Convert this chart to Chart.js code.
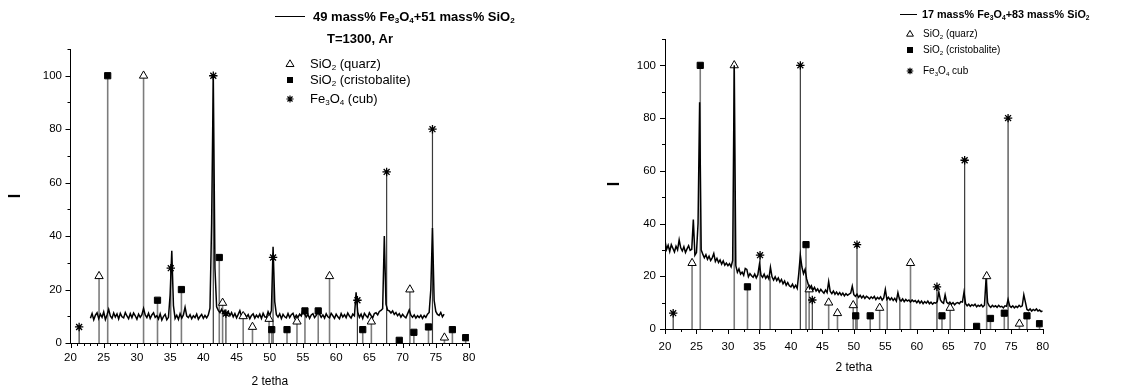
<!DOCTYPE html>
<html>
<head>
<meta charset="utf-8">
<script src="https://cdn.jsdelivr.net/npm/chart.js@4.4.1/dist/chart.umd.min.js"></script>
<style>
    html, body { margin: 0; padding: 0; background: #fff; }
    #wrap { position: relative; width: 1126px; height: 389px; }
    canvas { position: absolute; top: 0; }
</style>
</head>
<body>
<div id="wrap">
    <canvas id="left" width="563" height="389" style="left:0"></canvas>
    <canvas id="right" width="563" height="389" style="left:563px"></canvas>
</div>
<script>
// ---- data ----
const stepDeg = 0.25;

// 49 mass% Fe3O4 + 51 mass% SiO2, from 23.0 deg
const leftStart = 23.0;
const leftCounts = [
    9.3, 11.0, 8.7, 10.4, 11.3, 9.1, 10.8, 9.6, 11.6, 8.8, 10.5, 12.6, 10.1, 9.2, 11.2, 9.7, 10.9, 9.0, 11.1, 9.8,
    9.4, 11.4, 10.1, 9.1, 11.0, 9.5, 11.2, 10.2, 8.9, 10.8, 9.6, 10.6, 12.9, 10.5, 9.5, 11.1, 9.2, 10.5, 11.3, 9.6,
    10.2, 9.0, 10.9, 8.6, 9.9, 10.7, 8.7, 9.6, 18.0, 34.5, 14.0, 9.2, 10.4, 8.8, 11.0, 9.3, 10.5, 13.4, 10.1, 9.5,
    10.6, 9.1, 10.2, 9.5, 10.8, 8.9, 9.9, 10.7, 9.2, 10.3, 9.4, 10.5, 13.0, 45.0, 100, 28.0, 13.5, 12.2, 11.4, 12.6,
    11.1, 12.2, 10.7, 11.8, 10.2, 11.4, 9.8, 11.0, 9.4, 10.7, 12.1, 10.0, 9.5, 10.8, 9.7, 10.6, 9.1, 10.3, 10.9, 9.3,
    10.4, 9.6, 10.8, 9.2, 11.1, 9.8, 9.6, 11.7, 10.3, 12.2, 36.0, 15.5, 10.6, 9.7, 10.9, 9.1, 10.7, 9.8, 9.4, 11.0,
    9.5, 10.6, 11.1, 9.3, 10.4, 9.6, 10.8, 10.1, 12.5, 10.9, 9.7, 10.7, 9.2, 10.5, 11.0, 9.5, 10.3, 12.2, 10.8, 9.6,
    10.5, 9.3, 10.9, 9.8, 9.4, 11.1, 10.2, 9.2, 10.8, 9.8, 9.1, 11.0, 9.7, 10.6, 9.5, 11.2, 10.1, 9.3, 10.8, 10.2,
    19.0, 11.5, 9.6, 10.8, 9.2, 11.1, 10.2, 9.5, 11.3, 10.3, 9.4, 11.0, 11.3, 10.5, 11.8, 12.2, 12.8, 40.0, 14.5, 12.3,
    12.0, 11.2, 12.0, 10.7, 11.4, 10.2, 11.0, 9.7, 10.7, 9.9, 9.4, 10.9, 12.4, 10.4, 9.6, 10.5, 9.3, 10.2, 9.5, 10.4,
    9.2, 10.3, 9.6, 10.8, 11.4, 20.0, 43.0, 16.0, 11.8, 10.7, 10.3, 11.4, 9.8, 10.8
];

// 17 mass% Fe3O4 + 83 mass% SiO2, from 20.0 deg
const rightStart = 20.0;
const rightCounts = [
    33.5, 30.2, 31.8, 29.4, 32.0, 30.6, 29.2, 31.4, 30.0, 33.8, 30.8, 29.6, 31.2, 29.0, 30.4, 31.6, 29.8, 30.2, 41.5, 28.0,
    29.0, 40.0, 86.0, 30.0, 28.4, 27.0, 28.2, 26.4, 27.6, 26.0, 27.0, 28.6, 25.6, 26.8, 25.2, 26.2, 24.6, 25.8, 24.2, 25.0,
    24.0, 24.8, 23.6, 26.0, 100, 24.0, 21.5, 22.8, 20.8, 21.6, 20.4, 23.0, 22.6, 19.8, 21.0, 20.2, 19.6, 20.8, 19.4, 20.6,
    24.5, 20.4, 19.6, 20.8, 19.2, 20.2, 19.0, 23.4, 19.8, 18.6, 19.8, 18.4, 19.4, 17.8, 18.8, 17.2, 18.2, 16.6, 17.6, 16.4,
    16.0, 17.0, 15.6, 16.6, 15.4, 21.0, 28.0, 23.5, 21.0, 22.6, 19.0, 17.0, 15.4, 16.4, 14.8, 15.8, 14.4, 15.2, 14.0, 15.0,
    14.2, 13.6, 14.8, 13.8, 18.0, 14.2, 13.4, 14.4, 13.2, 14.0, 13.0, 13.8, 12.8, 13.6, 12.6, 13.4, 12.8, 13.2, 13.6, 16.2,
    13.0, 12.4, 13.2, 12.0, 12.8, 11.8, 12.6, 11.6, 12.4, 12.0, 11.4, 12.2, 11.6, 12.4, 11.2, 12.0, 11.4, 12.2, 11.0, 11.8,
    15.0, 11.2, 12.0, 11.0, 11.8, 10.8, 11.6, 10.6, 13.8, 11.2, 10.6, 11.4, 10.4, 11.2, 10.6, 11.0, 10.2, 11.0, 10.4, 10.8,
    10.0, 10.8, 9.8, 10.6, 9.6, 10.4, 9.8, 10.6, 9.6, 10.2, 9.4, 10.0, 9.8, 10.4, 14.0, 11.0, 10.2, 9.8, 13.0, 10.2,
    9.6, 10.2, 9.4, 10.0, 9.2, 9.8, 10.0, 9.6, 10.4, 10.2, 14.0, 9.6, 8.8, 9.4, 8.6, 9.2, 8.8, 9.4, 8.4, 9.0,
    8.6, 9.2, 8.4, 9.0, 19.0, 10.0, 8.8, 8.2, 9.0, 8.4, 8.8, 8.2, 9.0, 8.4, 8.6, 8.0, 8.8, 8.6, 11.2, 8.8,
    8.2, 8.8, 8.0, 8.6, 8.2, 9.0, 8.4, 8.8, 13.0, 10.2, 7.4, 7.0, 7.6, 6.8, 7.4, 7.0, 7.6, 6.8, 7.2, 6.6,
    6.8
];

// reference sticks (2 theta, relative intensity)
const quarzPos = [24.3, 31.0, 42.9, 46.0, 47.4, 49.9, 54.1, 59.0, 65.3, 71.1, 76.3];
const quarzInt = [25, 100, 15, 10, 6, 9, 8, 25, 8, 20, 2];
const cristPos = [25.6, 33.1, 36.7, 42.4, 50.3, 52.6, 55.3, 57.3, 64.0, 69.5, 71.7, 73.9, 77.5, 79.5];
const cristInt = [100, 16, 20, 32, 5, 5, 12, 12, 5, 1, 4, 6, 5, 2];
const magPos = [21.3, 35.1, 41.5, 43.4, 50.5, 63.2, 67.6, 74.5];
const magInt = [6, 28, 100, 11, 32, 16, 64, 80];
// cristobalite sticks whose symbol is buried in the right-hand pattern
const rightHiddenCrist = [36.7, 55.3, 57.3];

const FONT = '"Liberation Sans", Arial, sans-serif';

function curvePoints(start, ys) {
    return ys.map((y, i) => ({ x: start + i * stepDeg, y: y }));
}

function stickPoints(pos, ints) {
    const out = [];
    pos.forEach((p, i) => {
        out.push({ x: p, y: 0 }, { x: p, y: ints[i] }, { x: p, y: null });
    });
    return out;
}

function markPoints(pos, ints, skip) {
    const s = skip || [];
    return pos.map((p, i) => ({ x: p, y: ints[i] })).filter((pt) => s.indexOf(pt.x) < 0);
}

// small marker drawer for the legend
function mark(ctx, style, x, y, r) {
    ctx.save();
    ctx.lineWidth = 1;
    ctx.strokeStyle = "#000";
    ctx.fillStyle = "#000";
    ctx.beginPath();
    if (style === "triangle") {
        ctx.fillStyle = "#fff";
        ctx.moveTo(x, y - r);
        ctx.lineTo(x + r * 0.95, y + r * 0.6);
        ctx.lineTo(x - r * 0.95, y + r * 0.6);
        ctx.closePath();
        ctx.fill();
        ctx.stroke();
    } else if (style === "rect") {
        ctx.rect(x - r, y - r, 2 * r, 2 * r);
        ctx.fill();
    } else {
        ctx.lineWidth = 1.2;
        for (let k = 0; k < 4; k++) {
            const a = (k * Math.PI) / 4;
            ctx.moveTo(x - r * Math.cos(a), y - r * Math.sin(a));
            ctx.lineTo(x + r * Math.cos(a), y + r * Math.sin(a));
        }
        ctx.stroke();
    }
    ctx.restore();
}

function richText(ctx, x, y, parts, size, weight, align) {
    let w = 0;
    parts.forEach(([t, sub]) => {
        ctx.font = weight + " " + (sub ? size * 0.62 : size) + "px " + FONT;
        w += ctx.measureText(t).width;
    });
    let cx = align === "center" ? x - w / 2 : x;
    parts.forEach(([t, sub]) => {
        ctx.font = weight + " " + (sub ? size * 0.62 : size) + "px " + FONT;
        ctx.fillText(t, cx, y + (sub ? size * 0.32 : 0));
        cx += ctx.measureText(t).width;
    });
}

// minor/major tick marks and the in-plot legend
const decor = {
    id: "decor",
    afterDraw(chart, args, o) {
        const ctx = chart.ctx;
        const xs = chart.scales.x;
        const ys = chart.scales.y;
        const a = chart.chartArea;
        ctx.save();
        ctx.strokeStyle = "#000";
        ctx.lineWidth = 1;
        ctx.beginPath();
        for (let v = xs.min; v <= xs.max + 1e-9; v += o.xMinor) {
            const px = Math.round(xs.getPixelForValue(v)) + 0.5;
            const major = Math.abs(v / o.xMajor - Math.round(v / o.xMajor)) < 1e-6;
            ctx.moveTo(px, a.bottom);
            ctx.lineTo(px, a.bottom + (major ? 5 : 3));
        }
        for (let v = ys.min; v <= ys.max + 1e-9; v += o.yMinor) {
            const py = Math.round(ys.getPixelForValue(v)) + 0.5;
            const major = Math.abs(v / o.yMajor - Math.round(v / o.yMajor)) < 1e-6;
            ctx.moveTo(a.left, py);
            ctx.lineTo(a.left - (major ? 5 : 3), py);
        }
        ctx.stroke();

        const L = o.legend;
        ctx.fillStyle = "#000";
        ctx.textBaseline = "middle";
        ctx.beginPath();
        ctx.moveTo(L.line[0], L.line[2] + 0.5);
        ctx.lineTo(L.line[1], L.line[2] + 0.5);
        ctx.stroke();
        L.texts.forEach((t) => richText(ctx, t.x, t.y, t.parts, t.size, t.weight, t.align));
        L.items.forEach((it) => {
            mark(ctx, it.style, L.markX, it.y, it.r);
            richText(ctx, L.textX, it.y, it.parts, L.itemSize, "normal", "left");
        });
        ctx.restore();
    },
};

const SIO2_Q = [["SiO", 0], ["2", 1], [" (quarz)", 0]];
const SIO2_C = [["SiO", 0], ["2", 1], [" (cristobalite)", 0]];

function makeChart(id, cfg) {
    const ctx = document.getElementById(id).getContext("2d");
    const curve = {
        type: "line",
        data: curvePoints(cfg.start, cfg.counts),
        borderColor: "#000",
        borderWidth: 1.5,
        pointRadius: 0,
        tension: 0,
        order: cfg.curveOnTop ? 0 : 4,
    };
    const markers = [
        { data: markPoints(quarzPos, quarzInt), pointStyle: "triangle", pointRadius: 4.8, pointBackgroundColor: "#fff", pointBorderColor: "#000" },
        { data: markPoints(cristPos, cristInt, cfg.hiddenCrist), pointStyle: "rect", pointRadius: 4.4, pointBackgroundColor: "#000", pointBorderColor: "#000" },
        { data: markPoints(magPos, magInt), pointStyle: "star", pointRadius: 4.2, pointBackgroundColor: "#000", pointBorderColor: "#000", pointBorderWidth: 1.3 },
    ].map((d) =>
        Object.assign({ type: "scatter", pointBorderWidth: 1, showLine: false, order: 1 }, d)
    );
    const sticks = [
        { data: stickPoints(quarzPos, quarzInt), borderColor: "#7c7c7c", borderWidth: 1.6 },
        { data: stickPoints(cristPos, cristInt), borderColor: "#7c7c7c", borderWidth: 1.6 },
        { data: stickPoints(magPos, magInt), borderColor: "#3a3a3a", borderWidth: 1.2 },
    ].map((d) => Object.assign(d, { type: "line", pointRadius: 0, spanGaps: false, order: 5 }));

    return new Chart(ctx, {
        type: "line",
        data: { datasets: [curve].concat(markers, sticks) },
        options: {
            responsive: false,
            animation: false,
            events: [],
            layout: { padding: cfg.padding },
            plugins: {
                legend: { display: false },
                tooltip: { enabled: false },
                decor: cfg.decor,
            },
            scales: {
                x: {
                    type: "linear",
                    min: 20,
                    max: 80,
                    grid: { display: false, drawTicks: false },
                    border: { display: true, color: "#000", width: 1 },
                    ticks: { stepSize: 5, color: "#000", font: { size: 11.5, family: FONT }, padding: cfg.xPad, maxRotation: 0, autoSkip: false },
                    title: { display: true, text: "2 tetha", color: "#000", font: { size: 12, family: FONT }, padding: { top: 0, bottom: cfg.xTitlePad } },
                    afterFit: (s) => { s.height = cfg.xHeight; },
                },
                y: {
                    type: "linear",
                    min: 0,
                    max: 110,
                    grid: { display: false, drawTicks: false },
                    border: { display: true, color: "#000", width: 1 },
                    ticks: {
                        stepSize: 20,
                        color: "#000",
                        font: { size: 11.5, family: FONT },
                        padding: cfg.yPad,
                        callback: (v) => (v % 20 === 0 ? v : ""),
                    },
                    title: { display: true, text: "I", color: "#000", font: { size: 16, weight: "bold", family: FONT }, padding: { top: cfg.yTitlePad, bottom: 0 } },
                    afterFit: (s) => { s.width = cfg.yWidth; },
                },
            },
        },
        plugins: [decor],
    });
}

makeChart("left", {
    start: leftStart,
    counts: leftCounts,
    curveOnTop: false,
    hiddenCrist: [],
    padding: { left: 0, right: 94, top: 49, bottom: 0 },
    yWidth: 70.5,
    xHeight: 46,
    xPad: 8,
    yPad: 8.5,
    xTitlePad: 0,
    yTitlePad: 6,
    decor: {
        xMinor: 1, xMajor: 5, yMinor: 10, yMajor: 20,
        legend: {
            line: [275, 305, 16],
            texts: [
                { x: 313, y: 17, size: 13, weight: "bold", align: "left",
                  parts: [["49 mass% Fe", 0], ["3", 1], ["O", 0], ["4", 1], ["+51 mass% SiO", 0], ["2", 1]] },
                { x: 360, y: 39, size: 13, weight: "bold", align: "center", parts: [["T=1300, Ar", 0]] },
            ],
            markX: 290,
            textX: 310,
            itemSize: 13,
            items: [
                { style: "triangle", r: 4.2, y: 64, parts: SIO2_Q },
                { style: "rect", r: 3, y: 80, parts: SIO2_C },
                { style: "star", r: 3.6, y: 99, parts: [["Fe", 0], ["3", 1], ["O", 0], ["4", 1], [" (cub)", 0]] },
            ],
        },
    },
});

makeChart("right", {
    start: rightStart,
    counts: rightCounts,
    curveOnTop: true,
    hiddenCrist: rightHiddenCrist,
    padding: { left: 0, right: 83.3, top: 39, bottom: 0 },
    yWidth: 102,
    xHeight: 60,
    xPad: 11,
    yPad: 9,
    xTitlePad: 14,
    yTitlePad: 42,
    decor: {
        xMinor: 2.5, xMajor: 5, yMinor: 10, yMajor: 20,
        legend: {
            line: [337, 354, 14],
            texts: [
                { x: 359, y: 15, size: 10.8, weight: "bold", align: "left",
                  parts: [["17 mass% Fe", 0], ["3", 1], ["O", 0], ["4", 1], ["+83 mass% SiO", 0], ["2", 1]] },
            ],
            markX: 347,
            textX: 360,
            itemSize: 10,
            items: [
                { style: "triangle", r: 3.6, y: 34, parts: SIO2_Q },
                { style: "rect", r: 3, y: 50, parts: SIO2_C },
                { style: "star", r: 3.3, y: 71, parts: [["Fe", 0], ["3", 1], ["O", 0], ["4", 1], [" cub", 0]] },
            ],
        },
    },
});
</script>
</body>
</html>
